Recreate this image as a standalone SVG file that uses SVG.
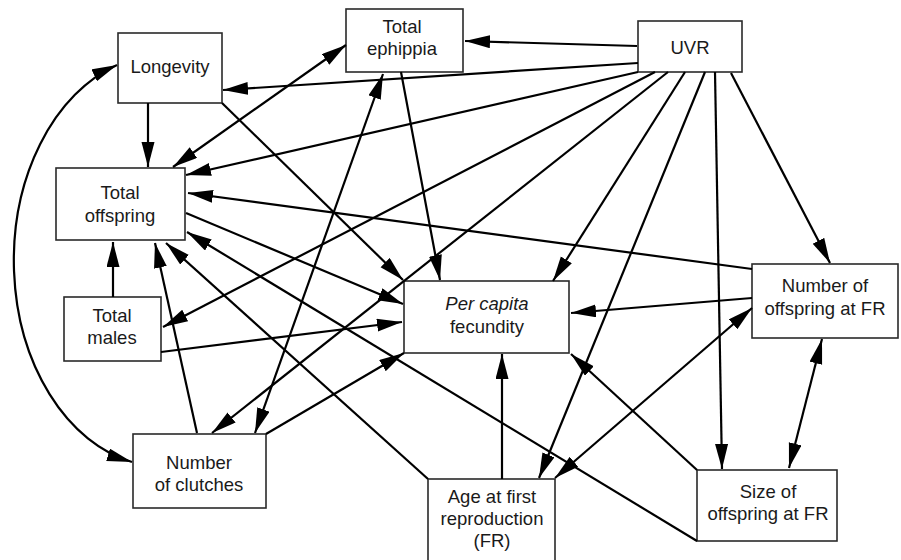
<svg xmlns="http://www.w3.org/2000/svg" width="901" height="560" viewBox="0 0 901 560">
<style>
.box{fill:#fff;stroke:#2a2a2a;stroke-width:1.6}
.t{font-family:"Liberation Sans",Arial,sans-serif;font-size:18.5px;fill:#1a1a1a;text-anchor:middle}
.it{font-style:italic}
.c path{fill:none;stroke:#000;stroke-width:2.2;marker-end:url(#ah)}
.c path.bi{marker-start:url(#ah)}
</style>
<defs>
<marker id="ah" markerUnits="userSpaceOnUse" markerWidth="26" markerHeight="14" refX="25" refY="6.5" orient="auto-start-reverse">
<path d="M0,0 L25,6.5 L0,13 z" fill="#000"/>
</marker>
</defs>
<rect width="901" height="560" fill="#fff"/>
<g id="longevity"><rect class="box" x="118" y="33" width="104" height="70"/><text class="t" x="170" y="73">Longevity</text></g>
<g id="total-ephippia"><rect class="box" x="346" y="9" width="117" height="63"/><text class="t" x="402" y="33">Total</text><text class="t" x="402" y="55">ephippia</text></g>
<g id="uvr"><rect class="box" x="638" y="21" width="104" height="51"/><text class="t" x="690" y="54">UVR</text></g>
<g id="total-offspring"><rect class="box" x="56" y="168" width="129" height="72"/><text class="t" x="120" y="199">Total</text><text class="t" x="120" y="222">offspring</text></g>
<g id="total-males"><rect class="box" x="64" y="297" width="97" height="64"/><text class="t" x="112" y="322">Total</text><text class="t" x="112" y="344">males</text></g>
<g id="number-of-clutches"><rect class="box" x="133" y="434" width="133" height="74"/><text class="t" x="199" y="469">Number</text><text class="t" x="199" y="491">of clutches</text></g>
<g id="per-capita-fecundity"><rect class="box" x="404" y="281" width="165" height="72"/><text class="t it" x="487" y="310">Per capita</text><text class="t" x="487" y="333">fecundity</text></g>
<g id="number-of-offspring-at-fr"><rect class="box" x="752" y="264" width="146" height="74"/><text class="t" x="825" y="292">Number of</text><text class="t" x="825" y="315">offspring at FR</text></g>
<g id="size-of-offspring-at-fr"><rect class="box" x="697" y="470" width="140" height="71"/><text class="t" x="768" y="498">Size of</text><text class="t" x="768" y="520">offspring at FR</text></g>
<g id="age-at-first-reproduction"><rect class="box" x="428" y="479" width="127" height="90"/><text class="t" x="492" y="503">Age at first</text><text class="t" x="492" y="525">reproduction</text><text class="t" x="492" y="547">(FR)</text></g>
<g id="connectors" class="c">
<path d="M637,46 L465,41"/>
<path d="M638,63 L223,90"/>
<path d="M148,103 L148,167"/>
<path class="bi" d="M173,167 L346,45"/>
<path d="M638,72 L186,175"/>
<path d="M655,72 L163,327"/>
<path d="M668,72 L212,433"/>
<path d="M685,72 L553,281"/>
<path d="M705,72 L539,478"/>
<path d="M715,72 L722,469"/>
<path d="M731,73 L830,263"/>
<path d="M752,269 L188,193"/>
<path d="M222,103 L403,280"/>
<path d="M401,72 L440,280"/>
<path class="bi" d="M255,433 L383,74"/>
<path d="M186,213 L403,304"/>
<path d="M161,352 L402,322"/>
<path d="M266,434 L404,353"/>
<path d="M197,433 L155,243"/>
<path d="M113,297 L113,242"/>
<path d="M428,479 L166,243"/>
<path d="M697,541 L187,232"/>
<path d="M752,298 L571,313"/>
<path class="bi" d="M555,478 L752,308"/>
<path d="M502,479 L502,354"/>
<path d="M697,470 L571,354"/>
<path class="bi" d="M822,339 L789,468"/>
<path class="bi" d="M117,65 A150,206 0 0,0 132,462"/>
</g>
</svg>
